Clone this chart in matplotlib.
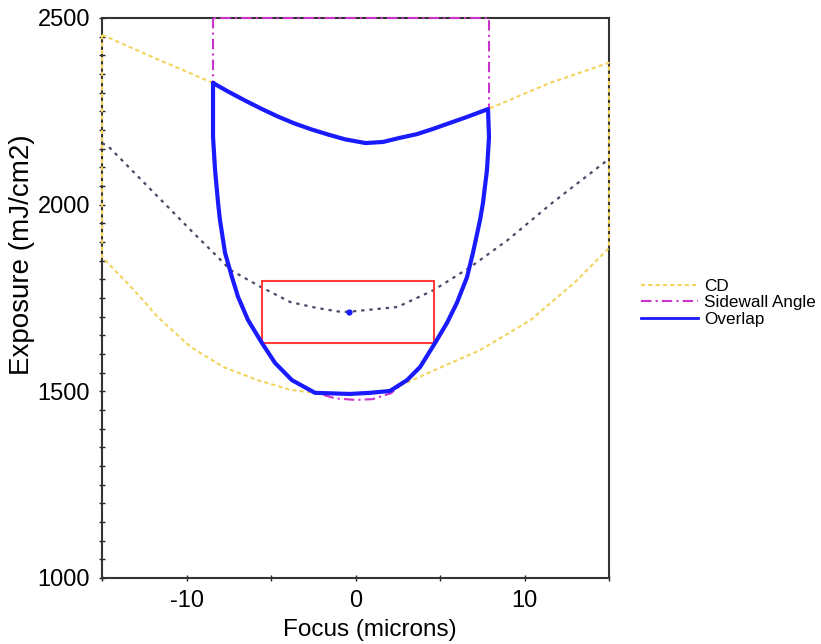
import matplotlib
matplotlib.use("Agg")
import matplotlib.pyplot as plt
from matplotlib.lines import Line2D
from matplotlib.patches import Rectangle
from matplotlib.ticker import MultipleLocator

plt.rcParams['font.family'] = ['Liberation Sans', 'DejaVu Sans']
plt.rcParams['axes.unicode_minus'] = False

# ---- data (Focus in microns, Exposure in mJ/cm2) ----
cd_upper_x = [-15, -12, -8.43, -7.54, -6.54, -5.53, -4.59, -3.58, -2.57, -1.63, -0.62, 0.6,
              1.63, 2.63, 3.64, 4.59, 5.59, 6.60, 7.84, 11.5, 15]
cd_upper_y = [2455, 2395, 2326, 2303, 2279, 2256, 2236, 2217, 2201, 2188, 2175, 2165,
              2168, 2179, 2189, 2203, 2219, 2235, 2256, 2326, 2380]
cd_lower_x = [-15, -13.1, -11.7, -9.76, -7.81, -5.80, -3.85, -2.4, -0.3, 0.9, 2.0, 2.5,
              4.44, 7.40, 10.36, 13.0, 15]
cd_lower_y = [1860, 1771, 1699, 1619, 1565, 1530, 1504, 1496, 1493, 1496, 1501, 1512,
              1552, 1611, 1691, 1793, 1884]

swa_x = [-8.43, -8.43, -8.43, -8.31, -8.13, -8.02, -7.72, -7.31, -6.95, -6.36, -5.53, -4.76,
         -3.76, -2.6, -1.2, 0.0, 1.0, 2.1, 3.05, 3.82, 4.70, 5.41, 6.0, 6.60, 6.95, 7.37,
         7.54, 7.78, 7.90, 7.90, 7.90, -8.43]
swa_y = [2500, 2326, 2181, 2093, 2004, 1959, 1871, 1806, 1753, 1691, 1629, 1576,
         1530, 1500, 1481, 1477, 1479, 1495, 1530, 1565, 1629, 1683, 1737, 1806, 1871, 1959,
         2004, 2093, 2181, 2256, 2500, 2500]

overlap_x = [-8.43, -7.54, -6.54, -5.53, -4.59, -3.58, -2.57, -1.63, -0.62, 0.6, 1.63, 2.63,
             3.64, 4.59, 5.59, 6.60, 7.84, 7.90, 7.78, 7.54, 7.37, 6.95, 6.60, 6.0, 5.41,
             4.70, 3.82, 3.05, 2.04, 0.86, -0.33, -2.40, -3.76, -4.76, -5.53, -6.36, -6.95,
             -7.31, -7.72, -8.02, -8.13, -8.31, -8.43, -8.43]
overlap_y = [2326, 2303, 2279, 2256, 2236, 2217, 2201, 2188, 2175, 2165, 2168, 2179,
             2189, 2203, 2219, 2235, 2256, 2181, 2093, 2004, 1959, 1871, 1806, 1737, 1683,
             1629, 1565, 1530, 1501, 1496, 1493, 1496, 1530, 1576, 1629, 1691, 1753,
             1806, 1871, 1959, 2004, 2093, 2181, 2326]

target_x = [-15, -14.6, -11.1, -9.76, -8.40, -7.40, -5.62, -3.85, -2.25, -0.89, -0.41,
            2.49, 4.62, 6.80, 9.0, 11.7, 14.7, 15]
target_y = [2165, 2155, 1994, 1932, 1871, 1825, 1780, 1739, 1723, 1713, 1713,
            1726, 1771, 1833, 1905, 2007, 2112, 2122]

best_focus = -0.41
best_dose = 1713
window_focus = [-5.56, 4.67]
window_dose = [1630, 1796]

legend_labels = ["CD", "Sidewall Angle", "Overlap"]

# ---- figure ----
fig = plt.figure(figsize=(8.21, 6.44), dpi=100)
ax = fig.add_axes([102 / 821, 66 / 644, 507 / 821, 560 / 644])

cd_color = '#f2d45c'
swa_color = '#cc33cc'
ov_color = '#1a1aff'
cd_ls = (0, (2, 1.5))
swa_ls = (0, (5, 2, 1, 2))

# CD contour: closed region (upper, right edge, lower, left edge)
cd_x = cd_upper_x + cd_lower_x[::-1] + [cd_upper_x[0]]
cd_y = cd_upper_y + cd_lower_y[::-1] + [cd_upper_y[0]]
ax.plot(cd_x, cd_y, color=cd_color, lw=1.5, ls=cd_ls, zorder=3, clip_on=False)

ax.plot(swa_x, swa_y, color=swa_color, lw=1.5, ls=swa_ls, zorder=3, clip_on=False)

ax.plot(target_x, target_y, color='#4a4a66', lw=1.6, ls=(0, (1.5, 2.2)), zorder=3)
ax.plot([best_focus], [best_dose], 'o', color=ov_color, ms=3.5, zorder=5)

ax.add_patch(Rectangle((window_focus[0], window_dose[0]),
                       window_focus[1] - window_focus[0], window_dose[1] - window_dose[0],
                       fill=False, edgecolor='#ff3b3b', lw=1.5, zorder=4))

ax.plot(overlap_x, overlap_y, color=ov_color, lw=3, zorder=4,
        solid_joinstyle='round', solid_capstyle='round')

ax.set_xlim(-15, 15)
ax.set_ylim(1000, 2500)
ax.xaxis.set_major_locator(MultipleLocator(10))
ax.xaxis.set_minor_locator(MultipleLocator(5))
ax.yaxis.set_major_locator(MultipleLocator(500))
ax.yaxis.set_minor_locator(MultipleLocator(50))
ax.tick_params(which='both', direction='inout', length=5, width=1, color='#222222')
ax.tick_params(axis='both', which='major', labelsize=17, pad=6)
for s in ax.spines.values():
    s.set_color('#333333')
    s.set_linewidth(1.5)

ax.set_xlabel("Focus (microns)", fontsize=17.5)
ax.set_ylabel("Exposure (mJ/cm2)", fontsize=20)
ax.xaxis.set_label_coords(0.529, -0.073)
ax.yaxis.set_label_coords(-0.132, 0.577)

handles = [Line2D([], [], color=cd_color, lw=1.5, ls=cd_ls),
           Line2D([], [], color=swa_color, lw=1.5, ls=swa_ls),
           Line2D([], [], color=ov_color, lw=2)]
fig.legend(handles, legend_labels, loc='center left', bbox_to_anchor=(0.781, 0.53),
           frameon=False, fontsize=12.3, handlelength=3.3, handletextpad=0.4,
           labelspacing=0.08, borderpad=0, borderaxespad=0)

fig.savefig("out.png", dpi=100)
